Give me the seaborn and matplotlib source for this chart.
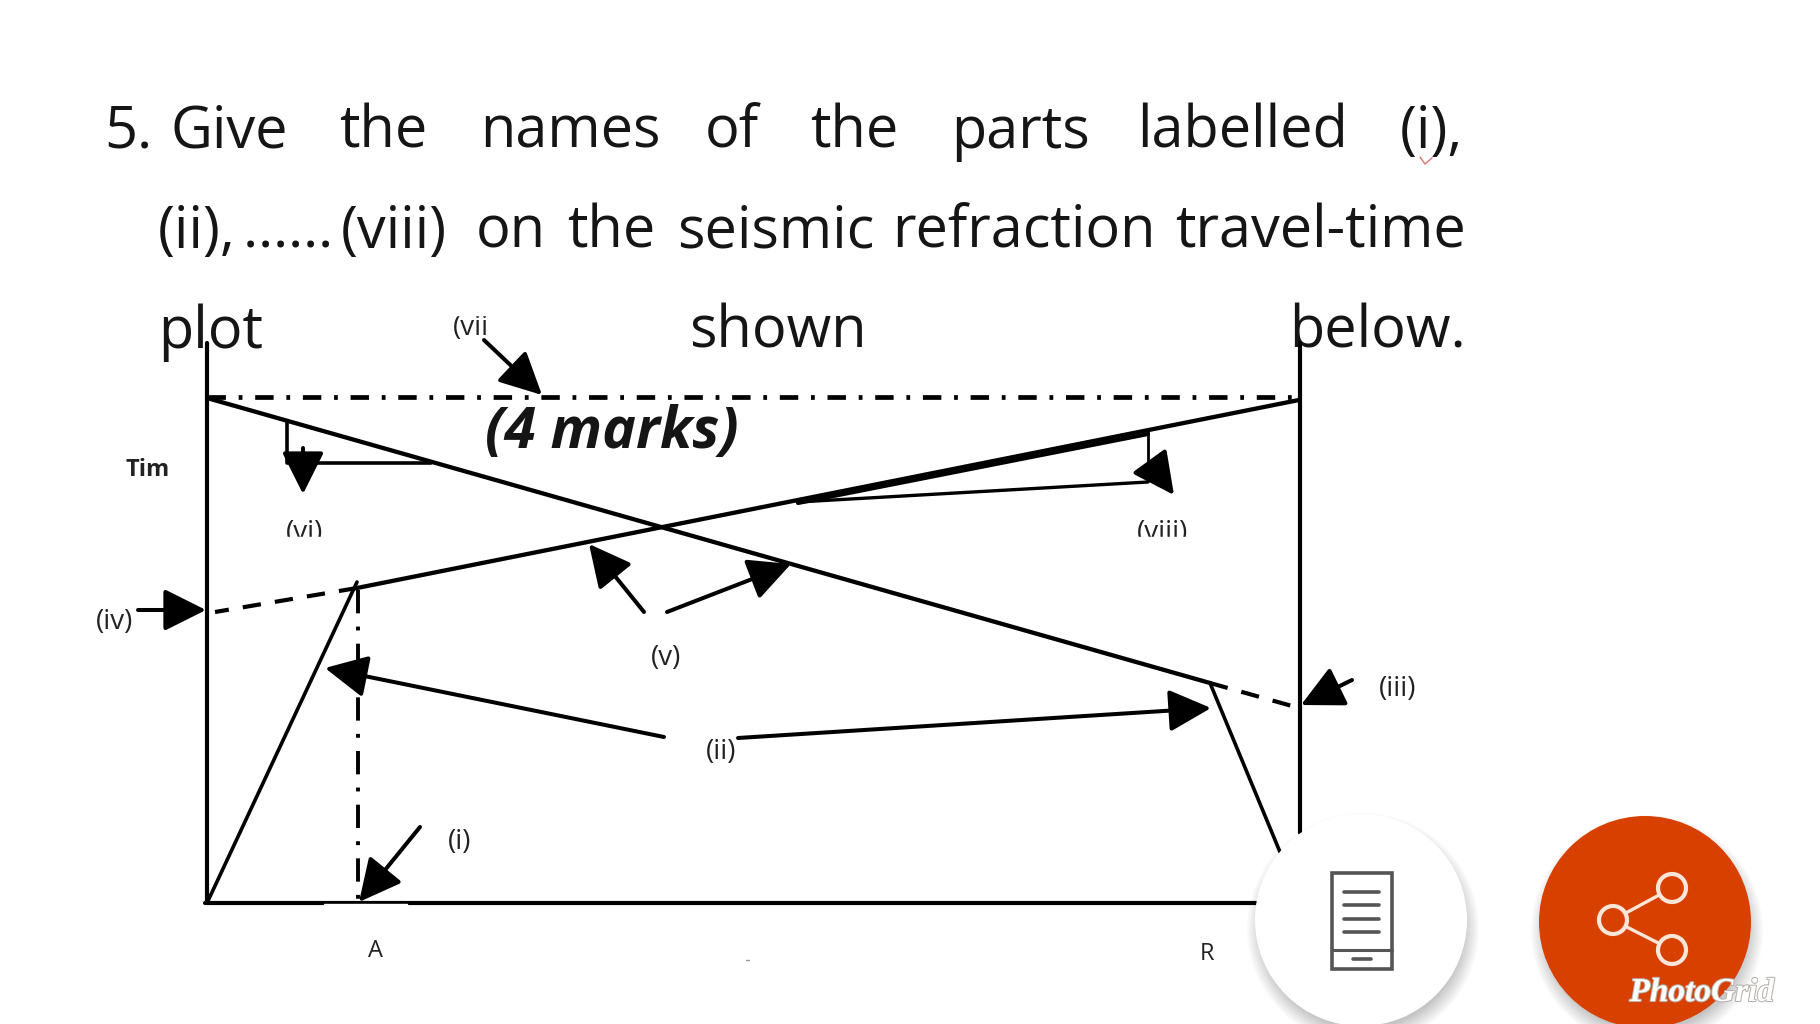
import matplotlib
matplotlib.use('Agg')
import matplotlib.pyplot as plt
import matplotlib.patheffects as pe
from matplotlib.patches import Circle, Rectangle
import seaborn as sns

# Question text: word, left edge, baseline
question_words = ['5.', 'Give', 'the', 'names', 'of', 'the', 'parts', 'labelled', '(i),',
                  '(ii),', '.', '.', '.', '.', '.', '.', '(viii)', 'on', 'the', 'seismic', 'refraction', 'travel-time',
                  'plot', 'shown', 'below.']
question_x = [104, 171, 339, 480, 705, 810, 951, 1137, 1400,
              158, 243, 258, 273, 288, 303, 318, 341, 476, 567, 677, 892, 1175,
              158, 689, 1289]
question_y = [148, 148, 148, 148, 148, 148, 148, 148, 148,
              248, 248, 248, 248, 248, 248, 248, 248, 248, 248, 248, 248, 248,
              348, 348, 348]

# Travel-time plot lines
axis_left_x, axis_left_y = [207, 207], [343, 903]
axis_right_x, axis_right_y = [1300, 1300], [343, 833]
axis_bottom_x, axis_bottom_y = [205, 1256], [903, 903]
direct_left_x, direct_left_y = [207, 357], [903, 582]
direct_right_x, direct_right_y = [1210, 1280], [683, 852]
refr_down_x, refr_down_y = [207, 1210], [398, 683]
refr_up_x, refr_up_y = [357, 1299], [588, 400]
ext_left_x, ext_left_y = [357, 215], [588, 612]
ext_right_x, ext_right_y = [1210, 1292], [683, 706]
top_x, top_y = [207, 1299], [397, 397]
drop_x, drop_y = [358, 358], [590, 900]
tri_left_x, tri_left_y = [287, 287, 431], [423, 463, 463]
tri_right_x, tri_right_y = [798, 1148], [503, 434]
tri_right_drop_x, tri_right_drop_y = [1148, 1148], [432, 476]
tri_right_low_x, tri_right_low_y = [798, 1148], [502, 482]

# Arrows: tail, tip
arrow_tail_x = [138, 644, 667, 664, 738, 420, 1352, 484, 303, 1150]
arrow_tail_y = [610, 612, 612, 737, 738, 827, 680, 340, 448, 462]
arrow_tip_x = [206, 589, 791, 325, 1211, 359, 1301, 542, 303, 1174]
arrow_tip_y = [610, 544, 564, 668, 708, 902, 705, 395, 494, 495]

# Small labels
label_texts = ['(vii', '(vi)', '(viii)', '(iv)', '(v)', '(ii)', '(iii)', '(i)']
label_x = [471, 305, 1163, 115, 666, 721, 1398, 460]
label_y = [335, 540, 540, 629, 665, 759, 696, 849]
mark_texts = ['Tim', 'A', 'R']
mark_x = [148, 376, 1207]
mark_y = [476, 957, 960]

# Document icon and share icon
doc_lines_y = [892, 905, 919, 932]
share_x = [1672, 1613, 1672]
share_y = [888, 920, 950]

sns.set_theme(style='white')
plt.rcParams['font.family'] = ['Open Sans', 'DejaVu Sans']

fig, ax = plt.subplots(figsize=(18.2, 10.24), dpi=100)
fig.subplots_adjust(0, 0, 1, 1)
ax.set_xlim(0, 1820)
ax.set_ylim(1024, 0)
ax.axis('off')


def draw_line(x, y, lw=3.0, ls='-', color='black', zorder=3):
    sns.lineplot(x=x, y=y, ax=ax, color=color, linewidth=lw, linestyle=ls, sort=False,
                 estimator=None, errorbar=None, legend=False, zorder=zorder)


dash_dot = (0, (3.9, 2.7, 0.8, 2.7))
dashed = (0, (4.4, 3.4))

for word, x, y in zip(question_words, question_x, question_y):
    ax.text(x, y, word, fontsize=41.5, color='#151515', ha='left', va='baseline', zorder=2)

draw_line(axis_left_x, axis_left_y)
draw_line(axis_right_x, axis_right_y)
draw_line(axis_bottom_x, axis_bottom_y)
draw_line(direct_left_x, direct_left_y, lw=2.6)
draw_line(direct_right_x, direct_right_y, lw=2.6)
draw_line(refr_down_x, refr_down_y, lw=3.1)
draw_line(refr_up_x, refr_up_y, lw=3.1)
draw_line(ext_left_x, ext_left_y, ls=dashed)
draw_line(ext_right_x, ext_right_y, ls=dashed)
draw_line(top_x, top_y, lw=3.4, ls=dash_dot)
draw_line(drop_x, drop_y, lw=2.8, ls=(0, (6.0, 3.4, 1.0, 3.4)))
draw_line(tri_left_x, tri_left_y, lw=2.6)
draw_line(tri_right_x, tri_right_y, lw=3.0)
draw_line(tri_right_drop_x, tri_right_drop_y, lw=2.0)
draw_line(tri_right_low_x, tri_right_low_y, lw=2.4)
# the bit of the axis the original has rubbed out under A
ax.add_patch(Rectangle((324, 904), 83, 3, color='white', zorder=4))

for x0, y0, x1, y1 in zip(arrow_tail_x, arrow_tail_y, arrow_tip_x, arrow_tip_y):
    ax.annotate('', xy=(x1, y1), xytext=(x0, y0), zorder=5,
                arrowprops=dict(arrowstyle='-|>,head_length=26,head_width=13', mutation_scale=1,
                                color='black', lw=2.9, shrinkA=0, shrinkB=0))

ax.text(485, 448, '(4 marks)', fontsize=41, fontweight='bold', style='italic',
        color='#151515', zorder=6)

for text, x, y in zip(label_texts, label_x, label_y):
    ax.text(x, y, text, fontsize=20, ha='center', va='baseline', color='#222222', zorder=6)
for text, x, y in zip(mark_texts, mark_x, mark_y):
    weight = 'bold' if text == 'Tim' else 'normal'
    ax.text(x, y, text, fontsize=17, ha='center', va='baseline', color='#222222',
            fontweight=weight, zorder=6)
# the original cuts these labels off: (vi), (viii) at the bottom, (vii at the top
ax.add_patch(Rectangle((270, 537), 70, 14, color='white', zorder=7))
ax.add_patch(Rectangle((1120, 537), 90, 14, color='white', zorder=7))
ax.add_patch(Rectangle((445, 304), 50, 11, color='white', zorder=7))

# spell-check squiggle and speck
draw_line([1420, 1425, 1432], [157, 164, 158], lw=1.0, color='#d9746f')
draw_line([746, 749], [960, 960], lw=1.0, color='#999999')

# round buttons with a soft shadow
for cx, cy, face in [(1361, 920, 'white'), (1645, 922, '#d84000')]:
    for k in range(12):
        ax.add_patch(Circle((cx + 2, cy + 9), 116 - k * 1.5, color='black', alpha=0.018, lw=0, zorder=8))
    ax.add_patch(Circle((cx, cy), 106, color=face, lw=0, zorder=9))

ax.add_patch(Rectangle((1332, 873), 60, 96, fill=False, ec='#555555', lw=2.6, zorder=10))
draw_line([1332, 1392], [950, 950], lw=2.2, color='#555555', zorder=10)
draw_line([1353, 1371], [959, 959], lw=2.6, color='#555555', zorder=10)
for y in doc_lines_y:
    draw_line([1344, 1379], [y, y], lw=2.6, color='#555555', zorder=10)

draw_line(share_x, share_y, lw=2.4, color='#fbe6d8', zorder=10)
for x, y in zip(share_x, share_y):
    ax.add_patch(Circle((x, y), 14, fc='#d84000', ec='#fbe6d8', lw=3, zorder=11))

ax.text(1702, 1001, 'PhotoGrid', fontsize=24, style='italic', fontweight='bold', ha='center',
        family=['Liberation Serif'], color='white', zorder=12,
        path_effects=[pe.withStroke(linewidth=1.5, foreground='#b8b0ac')])

fig.savefig('out.png', dpi=100, facecolor='white')
